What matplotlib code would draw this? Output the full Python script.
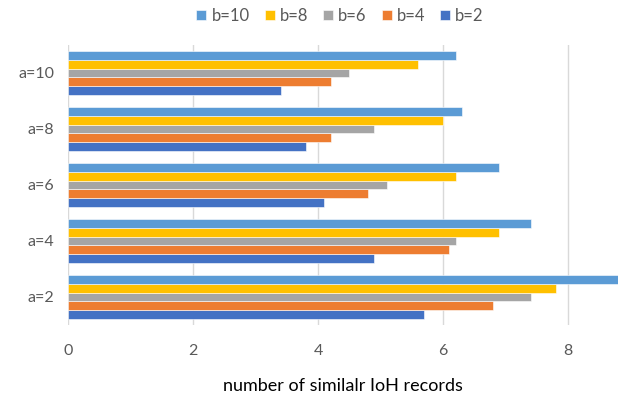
import matplotlib.pyplot as plt
import numpy as np

categories = ['a=2', 'a=4', 'a=6', 'a=8', 'a=10']
series = ['b=2', 'b=4', 'b=6', 'b=8', 'b=10']
values = {
    'b=2': [5.7, 4.9, 4.1, 3.8, 3.4],
    'b=4': [6.8, 6.1, 4.8, 4.2, 4.2],
    'b=6': [7.4, 6.2, 5.1, 4.9, 4.5],
    'b=8': [7.8, 6.9, 6.2, 6.0, 5.6],
    'b=10': [8.8, 7.4, 6.9, 6.3, 6.2],
}
colors = {'b=2': '#4472c4', 'b=4': '#ed7d31', 'b=6': '#a5a5a5',
          'b=8': '#ffc000', 'b=10': '#5b9bd5'}

plt.rcParams['font.family'] = ['Lato', 'DejaVu Sans']
fig = plt.figure(figsize=(6.24, 3.98), dpi=100)
ax = fig.add_axes([68 / 624, 1 - 325 / 398, 550 / 624, 280 / 398])

y = np.arange(len(categories))
h = 0.155
handles = []
for i, s in enumerate(series):
    b = ax.barh(y + (i - 2) * h, values[s], h, color=colors[s],
                edgecolor='white', linewidth=0.4, label=s, zorder=3)
    handles.append(b)

ax.set_xlim(0, 8.8)
ax.set_ylim(-0.5, 4.5)
ax.set_xticks([0, 2, 4, 6, 8])
ax.set_yticks(y)
ax.set_yticklabels(categories)
ax.grid(axis='x', color='#d9d9d9', linewidth=1, zorder=0)
for sp in ax.spines.values():
    sp.set_visible(False)
ax.tick_params(length=0, colors='#595959', labelsize=11.5)
ax.tick_params(axis='y', pad=10)
ax.tick_params(axis='x', pad=14)
ax.set_xlabel('number of similalr IoH records', fontsize=13, color='#000000', labelpad=14)

fig.legend(handles[::-1], series[::-1], loc='center', bbox_to_anchor=(340 / 624, 1 - 16 / 398),
           ncol=5, frameon=False, fontsize=12, handlelength=0.6, handleheight=0.6,
           handletextpad=0.3, columnspacing=0.9, labelcolor='#595959')

fig.savefig('out.png', dpi=100)
